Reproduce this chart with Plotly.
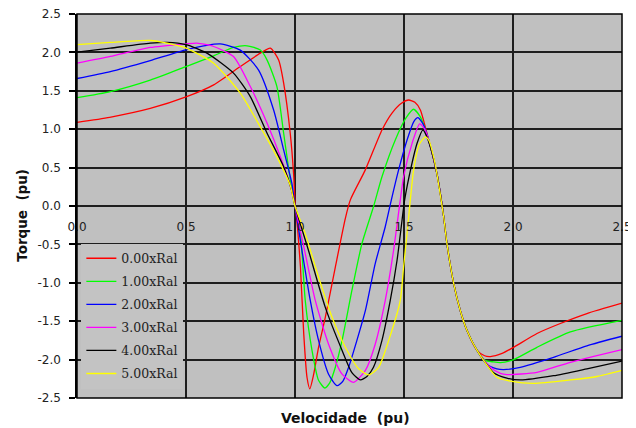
import plotly.graph_objects as go

# ---------------- data ----------------
series_names = ["0.00xRal", "1.00xRal", "2.00xRal", "3.00xRal", "4.00xRal", "5.00xRal"]
series_colors = ["#ff0000", "#00ff00", "#0000ff", "#ff00ff", "#000000", "#ffff00"]

speed_0 = [0.0, 0.15, 0.336, 0.5, 0.627, 0.749, 0.841, 0.887, 0.925, 0.948, 0.978, 0.994, 1.0,
           1.012, 1.025, 1.04, 1.055, 1.068, 1.085, 1.108, 1.139, 1.185, 1.231, 1.254, 1.322,
           1.399, 1.445, 1.49, 1.521, 1.55, 1.575, 1.613, 1.651, 1.682, 1.697, 1.728, 1.758,
           1.789, 1.835, 1.87, 1.896, 1.95, 2.003, 2.11, 2.217, 2.339, 2.5]
torque_0 = [1.09, 1.155, 1.27, 1.42, 1.577, 1.816, 1.99, 2.056, 1.90, 1.60, 0.95, 0.40, 0.05,
            -0.3, -0.795, -1.66, -2.23, -2.38, -2.2, -1.84, -1.45, -0.795, -0.16, 0.08, 0.467,
            0.99, 1.21, 1.34, 1.38, 1.35, 1.25, 0.86, 0.42, -0.14, -0.49, -1.01, -1.36,
            -1.62, -1.88, -1.95, -1.96, -1.92, -1.84, -1.66, -1.53, -1.40, -1.265]

speed_1 = [0.0, 0.153, 0.336, 0.5, 0.627, 0.718, 0.78, 0.841, 0.872, 0.917, 0.948, 0.978, 1.0,
           1.025, 1.047, 1.078, 1.108, 1.137, 1.16, 1.185, 1.216, 1.261, 1.307, 1.36, 1.399,
           1.46, 1.51, 1.544, 1.575, 1.60, 1.613, 1.651, 1.682, 1.697, 1.728, 1.758, 1.789,
           1.835, 1.873, 1.91, 1.942, 2.003, 2.11, 2.263, 2.5]
torque_1 = [1.41, 1.49, 1.64, 1.816, 1.956, 2.064, 2.086, 2.03, 1.90, 1.555, 0.947, 0.35, 0.0,
            -0.36, -1.23, -1.88, -2.27, -2.37, -2.3, -2.1, -1.75, -1.1, -0.49, -0.01, 0.38,
            0.86, 1.15, 1.26, 1.16, 0.98, 0.86, 0.42, -0.14, -0.49, -1.01, -1.36, -1.62,
            -1.88, -2.01, -2.03, -2.04, -2.0, -1.84, -1.64, -1.49]

speed_2 = [0.0, 0.153, 0.336, 0.5, 0.657, 0.749, 0.833, 0.902, 0.948, 0.986, 1.0, 1.032, 1.07,
           1.108, 1.154, 1.193, 1.22, 1.246, 1.284, 1.323, 1.368, 1.414, 1.442, 1.475, 1.514,
           1.545, 1.564, 1.59, 1.613, 1.651, 1.682, 1.697, 1.728, 1.758, 1.789, 1.835, 1.88,
           1.926, 1.957, 2.033, 2.186, 2.339, 2.5]
torque_2 = [1.66, 1.75, 1.894, 2.034, 2.11, 2.03, 1.77, 1.25, 0.73, 0.29, 0.0, -0.58, -1.23,
            -1.75, -2.19, -2.34, -2.28, -2.1, -1.75, -1.36, -0.75, -0.27, 0.08, 0.467, 0.86,
            1.1, 1.15, 1.055, 0.86, 0.42, -0.14, -0.49, -1.01, -1.36, -1.62, -1.88, -2.06,
            -2.12, -2.13, -2.1, -1.97, -1.82, -1.696]

speed_3 = [0.0, 0.153, 0.336, 0.5, 0.55, 0.627, 0.718, 0.795, 0.872, 0.933, 0.978, 1.0, 1.047,
           1.093, 1.154, 1.216, 1.269, 1.323, 1.368, 1.414, 1.452, 1.483, 1.498, 1.537, 1.572,
           1.595, 1.613, 1.651, 1.682, 1.697, 1.728, 1.758, 1.789, 1.835, 1.896, 1.942, 1.972,
           2.11, 2.263, 2.5]
torque_3 = [1.86, 1.947, 2.064, 2.11, 2.12, 2.077, 1.946, 1.555, 1.077, 0.64, 0.27, 0.0, -0.62,
            -1.23, -1.80, -2.19, -2.296, -2.14, -1.80, -1.23, -0.58, 0.08, 0.38, 0.816, 1.07,
            1.0, 0.86, 0.42, -0.14, -0.49, -1.01, -1.36, -1.62, -1.88, -2.10, -2.18, -2.196,
            -2.166, -2.035, -1.87]

speed_4 = [0.0, 0.153, 0.336, 0.413, 0.5, 0.596, 0.718, 0.795, 0.872, 0.948, 0.985, 1.0, 1.062,
           1.139, 1.216, 1.261, 1.30, 1.33, 1.36, 1.399, 1.437, 1.468, 1.491, 1.503, 1.533,
           1.56, 1.587, 1.605, 1.625, 1.651, 1.682, 1.697, 1.728, 1.758, 1.789, 1.835, 1.911,
           1.972, 2.033, 2.186, 2.339, 2.5]
torque_4 = [2.004, 2.056, 2.12, 2.13, 2.10, 1.99, 1.73, 1.424, 0.947, 0.51, 0.2, 0.0, -0.58,
            -1.32, -1.88, -2.17, -2.265, -2.22, -2.1, -1.75, -1.23, -0.71, -0.185, 0.08, 0.51,
            0.816, 0.99, 0.9, 0.73, 0.42, -0.14, -0.49, -1.01, -1.36, -1.62, -1.88, -2.17,
            -2.24, -2.265, -2.21, -2.12, -2.02]

speed_5 = [0.0, 0.153, 0.336, 0.413, 0.5, 0.627, 0.749, 0.841, 0.917, 0.978, 1.0, 1.047, 1.108,
           1.17, 1.231, 1.292, 1.338, 1.384, 1.43, 1.483, 1.498, 1.514, 1.529, 1.544, 1.57,
           1.598, 1.615, 1.635, 1.651, 1.682, 1.697, 1.728, 1.758, 1.789, 1.835, 1.926, 1.988,
           2.094, 2.263, 2.385, 2.5]
torque_5 = [2.10, 2.13, 2.155, 2.12, 2.056, 1.86, 1.47, 1.03, 0.64, 0.27, 0.0, -0.36, -0.925,
            -1.45, -1.84, -2.12, -2.20, -2.1, -1.75, -1.23, -0.795, -0.36, 0.08, 0.467, 0.80,
            0.90, 0.85, 0.65, 0.42, -0.14, -0.49, -1.01, -1.36, -1.62, -1.88, -2.23, -2.28,
            -2.31, -2.265, -2.22, -2.14]

speeds = [speed_0, speed_1, speed_2, speed_3, speed_4, speed_5]
torques = [torque_0, torque_1, torque_2, torque_3, torque_4, torque_5]

x_ticks = [0.0, 0.5, 1.0, 1.5, 2.0, 2.5]
y_ticks = [2.5, 2.0, 1.5, 1.0, 0.5, 0.0, -0.5, -1.0, -1.5, -2.0, -2.5]

# ---------------- figure ----------------
fig = go.Figure()
for name, color, xs, ys in zip(series_names, series_colors, speeds, torques):
    fig.add_trace(go.Scatter(
        x=xs, y=ys, name=name, mode="lines", legendgroup=name,
        line=dict(color=color, width=1.3, shape="spline", smoothing=0.6),
    ))

GRID = "#1e1e1e"
fig.update_layout(
    width=628, height=420,
    margin=dict(l=69, r=14, t=6, b=30, autoexpand=False),
    paper_bgcolor="white",
    plot_bgcolor="#c0c0c0",
    font=dict(family="DejaVu Sans", size=12, color="#222222"),
    showlegend=True,
    legend=dict(
        x=0.008, y=0.402, xanchor="left", yanchor="top",
        bgcolor="#c3c3c3", borderwidth=0,
        font=dict(family="DejaVu Serif", size=12.5, color="#222222"),
        tracegroupgap=3.8, itemwidth=30,
    ),
    xaxis=dict(
        range=[0, 2.5], tickvals=x_ticks, ticktext=[f"{v:.1f}" for v in x_ticks],
        showgrid=True, gridcolor=GRID, gridwidth=1.5, zeroline=False,
        showline=False, anchor="free", position=0.5, automargin=False,
        ticklabeloverflow="allow",
        ticks="outside", ticklen=10, tickcolor="rgba(0,0,0,0)",
        tickfont=dict(family="DejaVu Sans", size=12, color="#222222"),
    ),
    yaxis=dict(
        range=[-2.5, 2.5], tickvals=y_ticks, ticktext=[f"{v:.1f}" for v in y_ticks],
        showgrid=True, gridcolor=GRID, gridwidth=1.5, zeroline=False,
        showline=True, linecolor="#000000", linewidth=1.5, automargin=False,
        ticklabeloverflow="allow",
        ticks="outside", ticklen=6, tickcolor="#000000", tickwidth=1.5,
        ticklabelstandoff=6,
        tickfont=dict(family="DejaVu Sans", size=12, color="#222222"),
    ),
    shapes=[dict(type="rect", xref="paper", yref="paper", x0=0, y0=0, x1=1, y1=1,
                 line=dict(color="#000000", width=1.5), layer="above")],
    annotations=[
        dict(text="<b>Velocidade  (pu)</b>", xref="paper", yref="paper",
             x=0.492, y=-0.052, xanchor="center", yanchor="middle", showarrow=False,
             font=dict(family="DejaVu Sans", size=14, color="#111111")),
        dict(text="<b>Torque  (pu)</b>", xref="paper", yref="paper",
             x=-0.101, y=0.477, xanchor="center", yanchor="middle", showarrow=False,
             textangle=-90,
             font=dict(family="DejaVu Sans", size=13.5, color="#111111")),
    ],
)

fig.write_html("out.html")
